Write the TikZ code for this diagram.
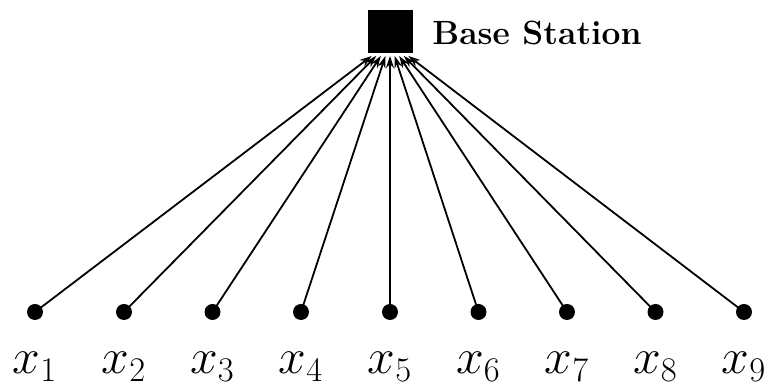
\documentclass[tikz,border=0pt]{standalone}
\usetikzlibrary{arrows.meta,calc}
\begin{document}
\begin{tikzpicture}[x=0.5pt,y=-0.5pt,
  sensor/.style={circle,fill=black,inner sep=0pt,minimum size=8pt},
  station/.style={rectangle,fill=black,inner sep=0pt,minimum width=22.5pt,minimum height=21.5pt},
  link/.style={line width=0.9pt,-{Stealth[length=6pt,width=4pt]}},
  lab/.style={anchor=base,inner sep=0pt,font=\fontsize{23}{28}\selectfont},
  title/.style={anchor=base west,inner sep=0pt,font=\fontsize{16.8}{20}\selectfont\bfseries}]
\useasboundingbox (0,0) rectangle (768,389);
\node[station] (bs) at (390.5,31.5) {};
\node[title] (bst) at (432,45) {Base Station};
\foreach \i/\x in {1/35,2/124,3/212.5,4/301,5/390,6/478.5,7/567,8/655.5,9/744}{
  \node[sensor] (d\i) at (\x,312) {};
  \node[lab] (l\i) at (\x,374) {$x_{\i}$};
  \coordinate (t\i) at ({390+(\i-5)*4.6},56);
  \draw[link] (d\i.center) -- (t\i);
}
\end{tikzpicture}
\end{document}
